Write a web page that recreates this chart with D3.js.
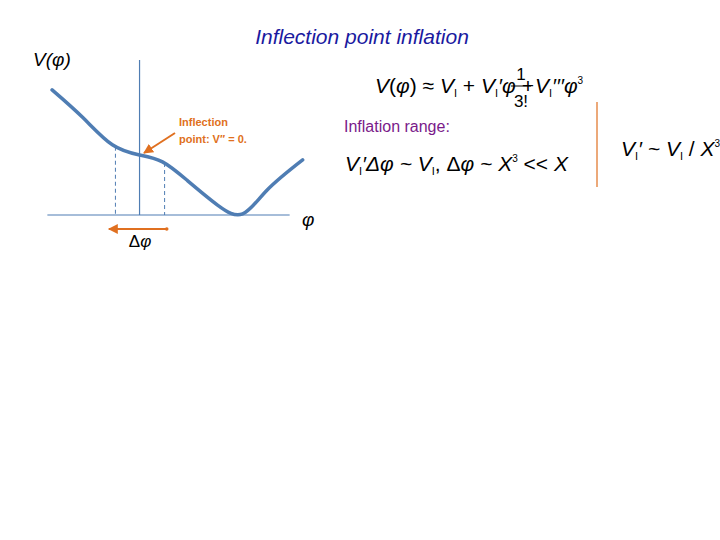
<!DOCTYPE html>
<html><head><meta charset="utf-8">
<script src="https://cdn.jsdelivr.net/npm/d3@7"></script>
<style>body{margin:0;background:#fff}text{font-family:"Liberation Sans",Arial,sans-serif}</style>
</head><body><svg id="c" width="720" height="540"></svg>
<script>
const phiVals=[-3.7,-2.4,-1.15,0,0.97,2.0,3.3,4.36,5.4,6.9];
const vVals=[5.65,4.4,3.17,2.71,2.4,1.58,0.45,0.05,1.13,2.49];
const dashPhi=[-1.02,1.06];
const svg=d3.select("#c");
const x=d3.scaleLinear().domain([-4,7]).range([45,305]);
const y=d3.scaleLinear().domain([0,7]).range([215,60]);
const blue="#4f7db3",orange="#e07020";
svg.append("defs").html(`<marker id="ah" viewBox="0 0 10 10" refX="9" refY="5" markerWidth="5" markerHeight="5" orient="auto"><path d="M0,0L10,5L0,10z" fill="${orange}"/></marker>`);
svg.append("text").attr("x",362).attr("y",44).attr("text-anchor","middle").attr("font-size",21).attr("font-style","italic").attr("fill","#1a1aa0").text("Inflection point inflation");
svg.append("line").attr("x1",x(-3.9)).attr("x2",x(6.35)).attr("y1",y(0)).attr("y2",y(0)).attr("stroke",blue).attr("stroke-width",1.2);
svg.append("line").attr("x1",x(0)).attr("x2",x(0)).attr("y1",y(0)).attr("y2",y(7)).attr("stroke",blue).attr("stroke-width",1.2);
const dashG=svg.append("g");
const pts=phiVals.map((p,i)=>[p,vVals[i]]);
const line=d3.line().x(d=>x(d[0])).y(d=>y(d[1])).curve(d3.curveNatural);
const path=svg.append("path").attr("d",line(pts)).attr("fill","none").attr("stroke",blue).attr("stroke-width",3.5).attr("stroke-linecap","round");
const pn=path.node(),L=pn.getTotalLength();
function yAt(px){let lo=0,hi=L;for(let k=0;k<40;k++){const m=(lo+hi)/2;if(pn.getPointAtLength(m).x<px)lo=m;else hi=m;}return pn.getPointAtLength(lo).y;}
dashPhi.forEach(p=>dashG.append("line").attr("x1",x(p)).attr("x2",x(p)).attr("y1",yAt(x(p))).attr("y2",y(0)).attr("stroke",blue).attr("stroke-dasharray","4,3").attr("stroke-width",1));
svg.append("line").attr("x1",x(1.15)).attr("x2",x(-1.3)).attr("y1",229).attr("y2",229).attr("stroke",orange).attr("stroke-width",2).attr("marker-end","url(#ah)");
svg.append("circle").attr("cx",x(1.15)).attr("cy",229).attr("r",1.8).attr("fill",orange);
svg.append("text").attr("x",140).attr("y",247).attr("text-anchor","middle").attr("font-size",17).attr("font-family","DejaVu Serif").html('Δ<tspan font-style="italic">φ</tspan>');
svg.append("text").attr("x",302).attr("y",226).attr("font-size",19).attr("font-style","italic").attr("font-family","DejaVu Serif").text("φ");
svg.append("text").attr("x",33).attr("y",66).attr("font-size",19).attr("font-style","italic").text("V(φ)");
svg.append("line").attr("x1",175).attr("y1",133).attr("x2",144).attr("y2",153).attr("stroke",orange).attr("stroke-width",2).attr("marker-end","url(#ah)");
svg.append("text").attr("x",179).attr("y",126).attr("font-size",11).attr("font-weight","bold").attr("fill",orange).text("Inflection");
svg.append("text").attr("x",179).attr("y",143).attr("font-size",11).attr("font-weight","bold").attr("fill",orange).text("point:  V′′ = 0.");
const f=svg.append("g").attr("font-size",21).attr("fill","#000");
f.append("text").attr("x",375).attr("y",93).html('<tspan font-style="italic">V</tspan>(<tspan font-style="italic">φ</tspan>) ≈ <tspan font-style="italic">V</tspan><tspan font-size="11" dy="4">I</tspan><tspan dy="-4"> + </tspan><tspan font-style="italic">V</tspan><tspan font-size="11" dy="4">I</tspan><tspan dy="-4" font-style="italic">′φ +</tspan>');
f.append("text").attr("x",521).attr("y",80).attr("font-size",17).attr("font-family","Liberation Serif").attr("text-anchor","middle").text("1");
f.append("line").attr("x1",511).attr("x2",531).attr("y1",86).attr("y2",86).attr("stroke","#000");
f.append("text").attr("x",521).attr("y",107).attr("font-size",17).attr("font-family","Liberation Serif").attr("text-anchor","middle").text("3!");
f.append("text").attr("x",535).attr("y",93).html('<tspan font-style="italic">V</tspan><tspan font-size="11" dy="4">I</tspan><tspan dy="-4" font-style="italic">′′′φ</tspan><tspan font-size="10" dy="-9">3</tspan>');
svg.append("text").attr("x",344).attr("y",132).attr("font-size",16).attr("fill","#7a1a8a").text("Inflation range:");
f.append("text").attr("x",345).attr("y",171).html('<tspan font-style="italic">V</tspan><tspan font-size="11" dy="4">I</tspan><tspan dy="-4" font-style="italic">′Δφ ~ V</tspan><tspan font-size="11" dy="4">I</tspan><tspan dy="-4">,    Δ</tspan><tspan font-style="italic">φ ~ X</tspan><tspan font-size="10" dy="-9">3</tspan><tspan dy="9"> &lt;&lt; </tspan><tspan font-style="italic">X</tspan>');
svg.append("line").attr("x1",597).attr("x2",597).attr("y1",102).attr("y2",187).attr("stroke",orange).attr("stroke-width",1.2);
f.append("text").attr("x",621).attr("y",156).html('<tspan font-style="italic">V</tspan><tspan font-size="11" dy="4">I</tspan><tspan dy="-4" font-style="italic">′ ~ V</tspan><tspan font-size="11" dy="4">I</tspan><tspan dy="-4"> / </tspan><tspan font-style="italic">X</tspan><tspan font-size="10" dy="-9">3</tspan>');
</script></body></html>
